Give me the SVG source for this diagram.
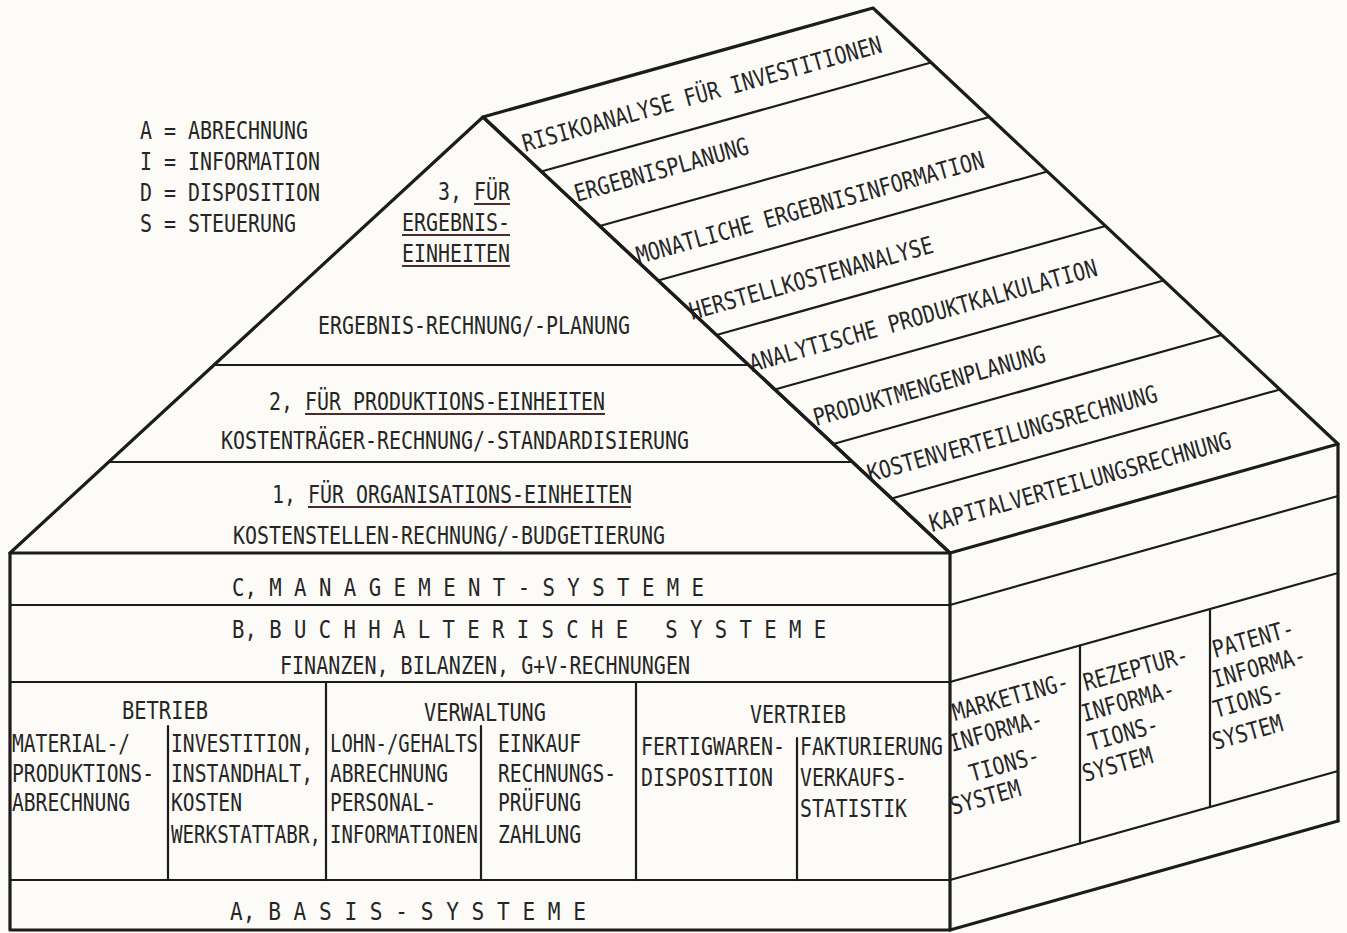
<svg xmlns="http://www.w3.org/2000/svg" width="1347" height="933" viewBox="0 0 1347 933">
  <style>
    .ln{stroke:#1c1c1c;stroke-width:2.2;fill:none;stroke-linecap:round;stroke-linejoin:round}
    .thk{stroke-width:3.2}
    .ul{stroke:#4a2c2c;stroke-width:1.8;fill:none}
    text{font-family:"DejaVu Sans Mono","Liberation Mono",monospace;font-size:24px;fill:#262626}
    text.c{font-size:20px}
  </style>
  <rect width="1347" height="933" fill="#fcfbf7"/>

  <!-- legend of abbreviations -->
  <g id="legend">
    <text x="140" y="139" textLength="168" lengthAdjust="spacingAndGlyphs">A = ABRECHNUNG</text>
    <text x="140" y="170" textLength="180" lengthAdjust="spacingAndGlyphs">I = INFORMATION</text>
    <text x="140" y="201" textLength="180" lengthAdjust="spacingAndGlyphs">D = DISPOSITION</text>
    <text x="140" y="232" textLength="156" lengthAdjust="spacingAndGlyphs">S = STEUERUNG</text>
  </g>

  <!-- roof plane with eight strips -->
  <g id="roof">
    <polygon class="ln thk" points="483,117 873,8 1338,444 950,553"/>
    <line class="ln" x1="541.4" y1="171.5" x2="931.1" y2="62.5"/>
    <line class="ln" x1="599.8" y1="226" x2="989.3" y2="117"/>
    <line class="ln" x1="658.1" y1="280.5" x2="1047.4" y2="171.5"/>
    <line class="ln" x1="716.5" y1="335" x2="1105.5" y2="226"/>
    <line class="ln" x1="774.9" y1="389.5" x2="1163.6" y2="280.5"/>
    <line class="ln" x1="833.3" y1="444" x2="1221.8" y2="335"/>
    <line class="ln" x1="891.6" y1="498.5" x2="1279.9" y2="389.5"/>
    <text transform="translate(525,152) rotate(-15.6)" textLength="372" lengthAdjust="spacingAndGlyphs">RISIKOANALYSE FÜR INVESTITIONEN</text>
    <text transform="translate(577,202) rotate(-15.6)" textLength="180" lengthAdjust="spacingAndGlyphs">ERGEBNISPLANUNG</text>
    <text transform="translate(639,264) rotate(-15.6)" textLength="360" lengthAdjust="spacingAndGlyphs">MONATLICHE ERGEBNISINFORMATION</text>
    <text transform="translate(692,320) rotate(-15.6)" textLength="252" lengthAdjust="spacingAndGlyphs">HERSTELLKOSTENANALYSE</text>
    <text transform="translate(752,372) rotate(-15.6)" textLength="360" lengthAdjust="spacingAndGlyphs">ANALYTISCHE PRODUKTKALKULATION</text>
    <text transform="translate(816,426) rotate(-15.6)" textLength="240" lengthAdjust="spacingAndGlyphs">PRODUKTMENGENPLANUNG</text>
    <text transform="translate(870,482) rotate(-15.6)" textLength="300" lengthAdjust="spacingAndGlyphs">KOSTENVERTEILUNGSRECHNUNG</text>
    <text transform="translate(932,532) rotate(-15.6)" textLength="312" lengthAdjust="spacingAndGlyphs">KAPITALVERTEILUNGSRECHNUNG</text>
  </g>

  <!-- gable: three levels of management systems -->
  <g id="gable">
    <polyline class="ln thk" points="10,553 483,117 950,553"/>
    <line class="ln" x1="214" y1="365" x2="748.6" y2="365"/>
    <line class="ln" x1="109" y1="462" x2="852.5" y2="462"/>
    <text x="438" y="200" textLength="72" lengthAdjust="spacingAndGlyphs">3, FÜR</text>
    <text x="402" y="231" textLength="108" lengthAdjust="spacingAndGlyphs">ERGEBNIS-</text>
    <text x="402" y="262" textLength="108" lengthAdjust="spacingAndGlyphs">EINHEITEN</text>
    <line class="ul" x1="474" y1="204" x2="510" y2="204"/>
    <line class="ul" x1="402" y1="235" x2="510" y2="235"/>
    <line class="ul" x1="402" y1="266" x2="510" y2="266"/>
    <text x="318" y="334" textLength="312" lengthAdjust="spacingAndGlyphs">ERGEBNIS-RECHNUNG/-PLANUNG</text>
    <text x="269" y="410" textLength="336" lengthAdjust="spacingAndGlyphs">2, FÜR PRODUKTIONS-EINHEITEN</text>
    <line class="ul" x1="305" y1="414" x2="605" y2="414"/>
    <text x="221" y="449" textLength="468" lengthAdjust="spacingAndGlyphs">KOSTENTRÄGER-RECHNUNG/-STANDARDISIERUNG</text>
    <text x="272" y="503" textLength="360" lengthAdjust="spacingAndGlyphs">1, FÜR ORGANISATIONS-EINHEITEN</text>
    <line class="ul" x1="308" y1="507" x2="631" y2="507"/>
    <text x="233" y="544" textLength="432" lengthAdjust="spacingAndGlyphs">KOSTENSTELLEN-RECHNUNG/-BUDGETIERUNG</text>
  </g>

  <!-- front facade: C, B and A system layers -->
  <g id="facade">
    <rect class="ln thk" x="10" y="553" width="940" height="377"/>
    <line class="ln" x1="10" y1="605" x2="950" y2="605"/>
    <line class="ln" x1="10" y1="682" x2="950" y2="682"/>
    <line class="ln" x1="10" y1="880" x2="950" y2="880"/>
    <line class="ln" x1="326" y1="682" x2="326" y2="880"/>
    <line class="ln" x1="636" y1="682" x2="636" y2="880"/>
    <line class="ln" x1="168" y1="726" x2="168" y2="880"/>
    <line class="ln" x1="481" y1="726" x2="481" y2="880"/>
    <line class="ln" x1="797" y1="738" x2="797" y2="880"/>

    <text x="232" y="596" textLength="472" lengthAdjust="spacingAndGlyphs" xml:space="preserve">C, M A N A G E M E N T - S Y S T E M E</text>
    <text x="232" y="638" textLength="594" lengthAdjust="spacingAndGlyphs" xml:space="preserve">B, B U C H H A L T E R I S C H E   S Y S T E M E</text>
    <text x="280" y="674" textLength="410" lengthAdjust="spacingAndGlyphs">FINANZEN, BILANZEN, G+V-RECHNUNGEN</text>

    <!-- column texts: 20px type stretched to the typewriter height -->
    <text class="c" transform="translate(122,719) scale(1,1.2)" textLength="86" lengthAdjust="spacingAndGlyphs">BETRIEB</text>
    <text class="c" transform="translate(424,721) scale(1,1.2)" textLength="122" lengthAdjust="spacingAndGlyphs">VERWALTUNG</text>
    <text class="c" transform="translate(750,723) scale(1,1.2)" textLength="96" lengthAdjust="spacingAndGlyphs">VERTRIEB</text>

    <text class="c" transform="translate(12,752) scale(1,1.2)" textLength="118" lengthAdjust="spacingAndGlyphs">MATERIAL-/</text>
    <text class="c" transform="translate(12,782) scale(1,1.2)" textLength="142" lengthAdjust="spacingAndGlyphs">PRODUKTIONS-</text>
    <text class="c" transform="translate(12,811) scale(1,1.2)" textLength="118" lengthAdjust="spacingAndGlyphs">ABRECHNUNG</text>

    <text class="c" transform="translate(171,752) scale(1,1.2)" textLength="142" lengthAdjust="spacingAndGlyphs">INVESTITION,</text>
    <text class="c" transform="translate(171,782) scale(1,1.2)" textLength="142" lengthAdjust="spacingAndGlyphs">INSTANDHALT,</text>
    <text class="c" transform="translate(171,811) scale(1,1.2)" textLength="71" lengthAdjust="spacingAndGlyphs">KOSTEN</text>
    <text class="c" transform="translate(171,843) scale(1,1.2)" textLength="150" lengthAdjust="spacingAndGlyphs">WERKSTATTABR,</text>

    <text class="c" transform="translate(330,752) scale(1,1.2)" textLength="148" lengthAdjust="spacingAndGlyphs">LOHN-/GEHALTS</text>
    <text class="c" transform="translate(330,782) scale(1,1.2)" textLength="118" lengthAdjust="spacingAndGlyphs">ABRECHNUNG</text>
    <text class="c" transform="translate(330,811) scale(1,1.2)" textLength="106" lengthAdjust="spacingAndGlyphs">PERSONAL-</text>
    <text class="c" transform="translate(330,843) scale(1,1.2)" textLength="148" lengthAdjust="spacingAndGlyphs">INFORMATIONEN</text>

    <text class="c" transform="translate(498,752) scale(1,1.2)" textLength="83" lengthAdjust="spacingAndGlyphs">EINKAUF</text>
    <text class="c" transform="translate(498,782) scale(1,1.2)" textLength="118" lengthAdjust="spacingAndGlyphs">RECHNUNGS-</text>
    <text class="c" transform="translate(498,811) scale(1,1.2)" textLength="83" lengthAdjust="spacingAndGlyphs">PRÜFUNG</text>
    <text class="c" transform="translate(498,843) scale(1,1.2)" textLength="83" lengthAdjust="spacingAndGlyphs">ZAHLUNG</text>

    <text class="c" transform="translate(641,755) scale(1,1.2)" textLength="144" lengthAdjust="spacingAndGlyphs">FERTIGWAREN-</text>
    <text class="c" transform="translate(641,786) scale(1,1.2)" textLength="132" lengthAdjust="spacingAndGlyphs">DISPOSITION</text>

    <text class="c" transform="translate(800,755) scale(1,1.2)" textLength="143" lengthAdjust="spacingAndGlyphs">FAKTURIERUNG</text>
    <text class="c" transform="translate(800,786) scale(1,1.2)" textLength="107" lengthAdjust="spacingAndGlyphs">VERKAUFS-</text>
    <text class="c" transform="translate(800,817) scale(1,1.2)" textLength="107" lengthAdjust="spacingAndGlyphs">STATISTIK</text>

    <text x="230" y="920" textLength="356" lengthAdjust="spacingAndGlyphs" xml:space="preserve">A, B A S I S - S Y S T E M E</text>
  </g>

  <!-- side wall in perspective -->
  <g id="side-wall">
    <line class="ln thk" x1="1338" y1="444" x2="1338" y2="821"/>
    <line class="ln" x1="950" y1="605" x2="1338" y2="496"/>
    <line class="ln" x1="950" y1="682" x2="1338" y2="573"/>
    <line class="ln" x1="950" y1="880" x2="1338" y2="771"/>
    <line class="ln thk" x1="950" y1="930" x2="1338" y2="821"/>
    <line class="ln" x1="1080" y1="645.5" x2="1080" y2="843.5"/>
    <line class="ln" x1="1210" y1="609" x2="1210" y2="807"/>

    <text transform="translate(955,721) rotate(-15.6)" textLength="120" lengthAdjust="spacingAndGlyphs">MARKETING-</text>
    <text transform="translate(952,752) rotate(-15.6)" textLength="96" lengthAdjust="spacingAndGlyphs">INFORMA-</text>
    <text transform="translate(972,782) rotate(-15.6)" textLength="72" lengthAdjust="spacingAndGlyphs">TIONS-</text>
    <text transform="translate(953,815) rotate(-15.6)" textLength="72" lengthAdjust="spacingAndGlyphs">SYSTEM</text>

    <text transform="translate(1086,691) rotate(-15.6)" textLength="108" lengthAdjust="spacingAndGlyphs">REZEPTUR-</text>
    <text transform="translate(1084,722) rotate(-15.6)" textLength="96" lengthAdjust="spacingAndGlyphs">INFORMA-</text>
    <text transform="translate(1091,751) rotate(-15.6)" textLength="72" lengthAdjust="spacingAndGlyphs">TIONS-</text>
    <text transform="translate(1085,782) rotate(-15.6)" textLength="72" lengthAdjust="spacingAndGlyphs">SYSTEM</text>

    <text transform="translate(1215,658) rotate(-15.6)" textLength="84" lengthAdjust="spacingAndGlyphs">PATENT-</text>
    <text transform="translate(1215,688) rotate(-15.6)" textLength="96" lengthAdjust="spacingAndGlyphs">INFORMA-</text>
    <text transform="translate(1216,718) rotate(-15.6)" textLength="72" lengthAdjust="spacingAndGlyphs">TIONS-</text>
    <text transform="translate(1215,750) rotate(-15.6)" textLength="72" lengthAdjust="spacingAndGlyphs">SYSTEM</text>
  </g>
</svg>
